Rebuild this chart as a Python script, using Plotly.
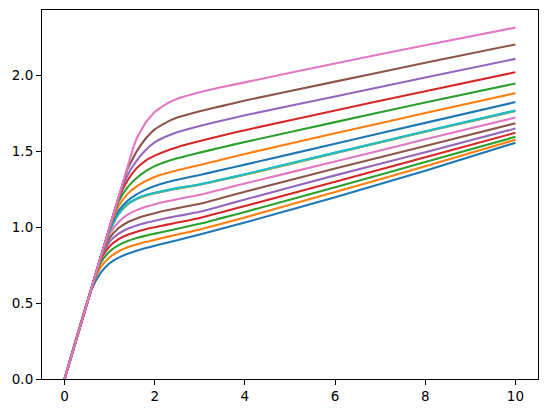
import plotly.graph_objects as go

x_vals = [0, 0.6, 0.8, 1.0, 1.2, 1.4, 1.6, 1.8, 2.0, 2.25, 2.5, 3.0, 3.5, 4.0, 6.0, 8.0, 10.0]
x_top  = [0, 0.6, 0.8, 1.0, 1.2, 1.4, 1.52, 1.6, 1.8, 2.0, 2.25, 2.5, 3.0, 3.5, 4.0, 6.0, 8.0, 10.0]

c01_blue   = [0, 0.590, 0.700, 0.763, 0.800, 0.826, 0.846, 0.863, 0.878, 0.897, 0.915, 0.952, 0.992, 1.031, 1.198, 1.373, 1.557]
c02_orange = [0, 0.600, 0.735, 0.802, 0.842, 0.868, 0.887, 0.903, 0.917, 0.935, 0.952, 0.986, 1.025, 1.065, 1.232, 1.402, 1.577]
c03_green  = [0, 0.600, 0.765, 0.840, 0.882, 0.909, 0.929, 0.945, 0.958, 0.974, 0.990, 1.023, 1.062, 1.101, 1.264, 1.430, 1.596]
c04_red    = [0, 0.600, 0.785, 0.875, 0.922, 0.951, 0.971, 0.987, 1.000, 1.016, 1.031, 1.061, 1.100, 1.140, 1.300, 1.461, 1.623]
c05_purple = [0, 0.600, 0.795, 0.905, 0.958, 0.990, 1.012, 1.029, 1.043, 1.059, 1.074, 1.102, 1.142, 1.183, 1.342, 1.494, 1.651]
c06_brown  = [0, 0.600, 0.800, 0.930, 0.995, 1.033, 1.058, 1.077, 1.093, 1.110, 1.126, 1.155, 1.194, 1.234, 1.387, 1.536, 1.686]
c07_pink   = [0, 0.600, 0.800, 0.955, 1.035, 1.083, 1.113, 1.135, 1.152, 1.170, 1.185, 1.214, 1.251, 1.289, 1.433, 1.580, 1.723]
c08_gray   = [0, 0.600, 0.800, 0.973, 1.086, 1.151, 1.186, 1.208, 1.224, 1.240, 1.254, 1.280, 1.313, 1.346, 1.488, 1.629, 1.766]
c09_olive  = [0, 0.600, 0.800, 0.974, 1.088, 1.153, 1.188, 1.210, 1.226, 1.242, 1.256, 1.282, 1.315, 1.348, 1.490, 1.631, 1.768]
c10_cyan   = [0, 0.600, 0.800, 0.975, 1.090, 1.155, 1.190, 1.212, 1.228, 1.244, 1.258, 1.284, 1.317, 1.350, 1.492, 1.633, 1.770]
c11_blue   = [0, 0.600, 0.800, 0.990, 1.110, 1.175, 1.217, 1.248, 1.272, 1.295, 1.313, 1.345, 1.379, 1.413, 1.550, 1.688, 1.825]
c12_orange = [0, 0.600, 0.800, 0.995, 1.140, 1.220, 1.270, 1.305, 1.332, 1.356, 1.376, 1.411, 1.447, 1.483, 1.619, 1.753, 1.884]
c13_green  = [0, 0.600, 0.800, 1.000, 1.170, 1.265, 1.325, 1.370, 1.403, 1.432, 1.455, 1.492, 1.528, 1.562, 1.693, 1.822, 1.948]
c14_red    = [0, 0.600, 0.800, 1.000, 1.190, 1.310, 1.390, 1.440, 1.472, 1.503, 1.528, 1.568, 1.605, 1.640, 1.770, 1.897, 2.022]
c15_purple = [0, 0.600, 0.800, 1.000, 1.195, 1.345, 1.440, 1.510, 1.560, 1.598, 1.627, 1.668, 1.704, 1.738, 1.862, 1.987, 2.110]
c16_brown  = [0, 0.600, 0.800, 1.000, 1.200, 1.385, 1.500, 1.585, 1.645, 1.690, 1.723, 1.765, 1.800, 1.835, 1.960, 2.084, 2.205]
c17_pink   = [0, 0.600, 0.800, 1.000, 1.200, 1.400, 1.520, 1.585, 1.690, 1.760, 1.812, 1.847, 1.890, 1.925, 1.955, 2.080, 2.200, 2.316]

series = [c01_blue, c02_orange, c03_green, c04_red, c05_purple, c06_brown, c07_pink,
          c08_gray, c09_olive, c10_cyan, c11_blue, c12_orange, c13_green, c14_red,
          c15_purple, c16_brown, c17_pink]

tab10 = ["#1f77b4", "#ff7f0e", "#2ca02c", "#d62728", "#9467bd",
         "#8c564b", "#e377c2", "#7f7f7f", "#bcbd22", "#17becf"]

x_ticks = [0, 2, 4, 6, 8, 10]
y_ticks = [0.0, 0.5, 1.0, 1.5, 2.0]

fig = go.Figure()
n = len(series)
for i, ys in enumerate(series):
    xs = x_top if len(ys) == len(x_top) else x_vals
    smooth = 0.3 if i >= n - 2 else 0.6
    fig.add_trace(go.Scatter(
        x=xs, y=ys, mode="lines",
        line=dict(color=tab10[i % 10], width=2.1, shape="spline", smoothing=smooth),
        showlegend=False, hoverinfo="skip"))

axis_common = dict(showgrid=False, zeroline=False, showline=True, linecolor="black",
                   linewidth=1.1, mirror=True, ticks="outside", ticklen=5, tickwidth=1.1,
                   tickcolor="black",
                   tickfont=dict(family="DejaVu Sans", size=13.5, color="black"))

fig.update_layout(
    width=547, height=413,
    margin=dict(l=42, r=9, t=10, b=34),
    paper_bgcolor="white", plot_bgcolor="white",
    xaxis=dict(range=[-0.5, 10.5], tickvals=x_ticks, ticktext=[str(v) for v in x_ticks], **axis_common),
    yaxis=dict(range=[0, 2.432], tickvals=y_ticks, ticktext=[f"{v:.1f}" for v in y_ticks], **axis_common),
)

fig.write_html("out.html", config={"displayModeBar": False},
               post_script="document.body.style.margin='0';document.body.style.overflow='hidden';")
